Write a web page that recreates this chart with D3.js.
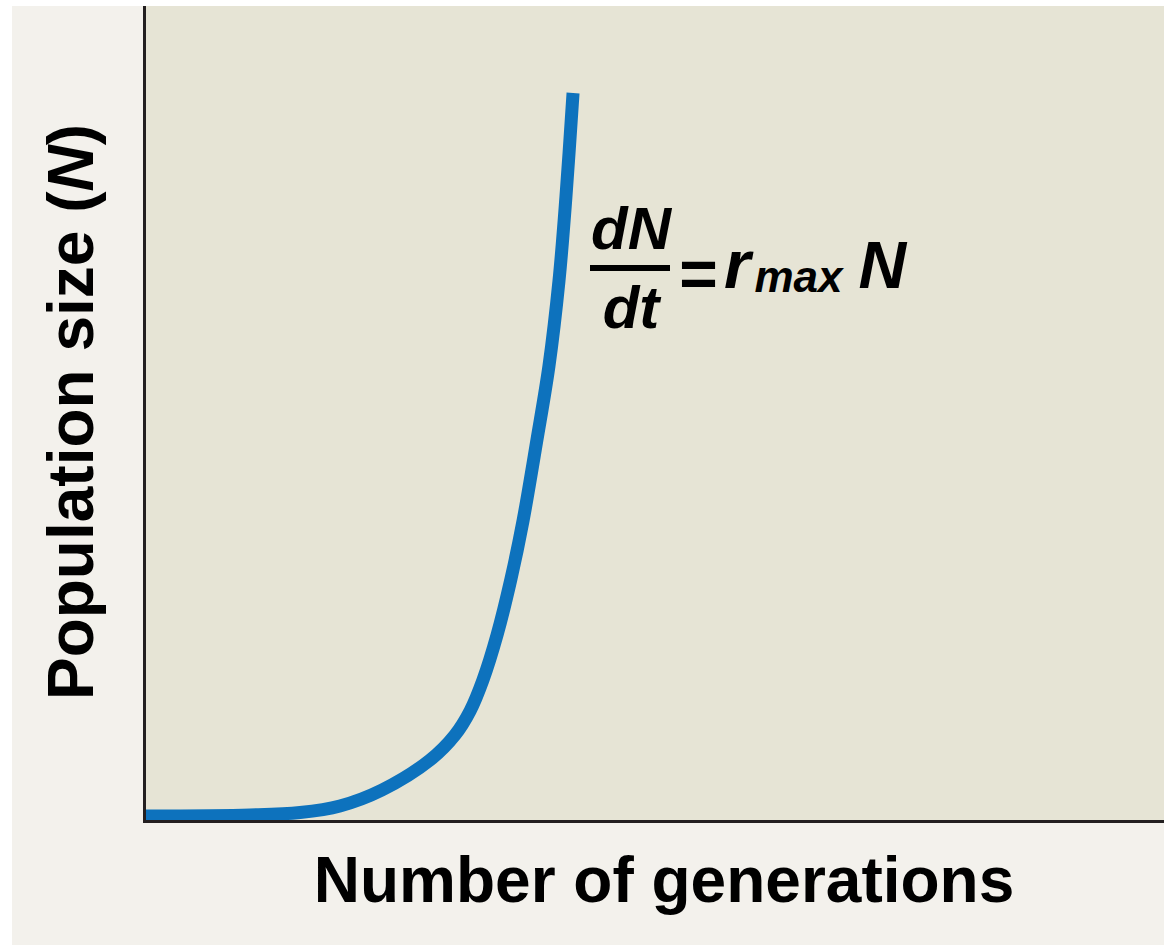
<!DOCTYPE html>
<html>
<head>
<meta charset="utf-8">
<script src="https://cdn.jsdelivr.net/npm/d3@7"></script>
<style>
  html, body { margin: 0; padding: 0; background: #ffffff; }
  svg { display: block; }
  text { font-family: "Liberation Sans", Arial, Helvetica, sans-serif; font-weight: bold; fill: #000; }
</style>
</head>
<body>
<svg id="chart" width="1164" height="945"></svg>
<script>
// Exponential growth curve: population size against number of generations
const generations = [0, 6.13, 9.08, 11.43, 13.91, 16.74, 18.21, 19.10, 19.86, 20.69, 21.51, 22.22, 23.04, 23.75, 24.34, 24.75, 25.17];
const population  = [6.1, 7.4, 10.4, 18.4, 38.0, 74.8, 105.5, 135.0, 173.0, 228.2, 296.9, 368.1, 467.5, 558.3, 662.6, 765.6, 893.3];

const xLabel = "Number of generations";
const yLabelText = "Population size (";
const yLabelVar = "N";

const W = 1164, H = 945;
const plot = { left: 146, right: 1164, top: 6, bottom: 821 };

const svg = d3.select("#chart");

// page background and plot panel
svg.append("rect").attr("x", 12).attr("y", 6).attr("width", W - 12).attr("height", H - 6)
  .attr("fill", "#f3f1ec");
svg.append("rect").attr("x", plot.left).attr("y", plot.top)
  .attr("width", plot.right - plot.left).attr("height", plot.bottom - plot.top)
  .attr("fill", "#e6e4d5");

const x = d3.scaleLinear().domain([0, 60]).range([plot.left, plot.right]);
const y = d3.scaleLinear().domain([0, 1000]).range([plot.bottom, plot.top]);

svg.append("clipPath").attr("id", "plotClip")
  .append("rect").attr("x", plot.left).attr("y", plot.top)
  .attr("width", plot.right - plot.left).attr("height", plot.bottom - plot.top + 4);

const pts = generations.map((g, i) => [g, population[i]]);
const line = d3.line().x(d => x(d[0])).y(d => y(d[1])).curve(d3.curveCatmullRom.alpha(0.5));

svg.append("path")
  .datum(pts)
  .attr("clip-path", "url(#plotClip)")
  .attr("d", line)
  .attr("fill", "none")
  .attr("stroke", "#0d72bd")
  .attr("stroke-width", 13)
  .attr("stroke-linecap", "butt");

// axes: plain lines, no ticks
const axisColor = "#231f20";
const gx = svg.append("g").attr("transform", `translate(0,${plot.bottom + 0.5})`)
  .call(d3.axisBottom(x).tickValues([]).tickSizeOuter(0));
const gy = svg.append("g").attr("transform", `translate(${plot.left - 1.5},0)`)
  .call(d3.axisLeft(y).tickValues([]).tickSizeOuter(0));
[gx, gy].forEach(g => g.select(".domain").attr("stroke", axisColor).attr("stroke-width", 3));
gy.select(".domain").attr("d", `M0,${plot.top}V${plot.bottom + 2}`);
gx.select(".domain").attr("d", `M${plot.left - 3},0H${plot.right}`);

// axis titles
svg.append("text")
  .attr("x", 664).attr("y", 902)
  .attr("text-anchor", "middle")
  .attr("font-size", 64)
  .text(xLabel);

const yl = svg.append("text")
  .attr("transform", "translate(93,412) rotate(-90)")
  .attr("text-anchor", "middle")
  .attr("font-size", 64);
yl.append("tspan").text(yLabelText);
yl.append("tspan").attr("font-style", "italic").text(yLabelVar);
yl.append("tspan").text(")");

// growth equation
const eq = svg.append("g").attr("font-style", "italic");
eq.append("text").attr("x", 631).attr("y", 249).attr("text-anchor", "middle")
  .attr("font-size", 60).attr("font-style", "italic").text("dN");
eq.append("rect").attr("x", 590).attr("y", 265).attr("width", 80).attr("height", 6).attr("fill", "#000");
eq.append("text").attr("x", 631).attr("y", 328).attr("text-anchor", "middle")
  .attr("font-size", 60).attr("font-style", "italic").text("dt");
eq.append("text").attr("x", 678).attr("y", 297)
  .attr("font-size", 66).text("=");
const rhs = eq.append("text").attr("x", 724).attr("y", 288).attr("font-style", "italic");
rhs.append("tspan").attr("font-size", 68).text("r");
rhs.append("tspan").attr("font-size", 44).attr("dy", 4).attr("dx", 4).text("max");
rhs.append("tspan").attr("font-size", 66).attr("dy", -4).attr("dx", 16).text("N");
</script>
</body>
</html>
